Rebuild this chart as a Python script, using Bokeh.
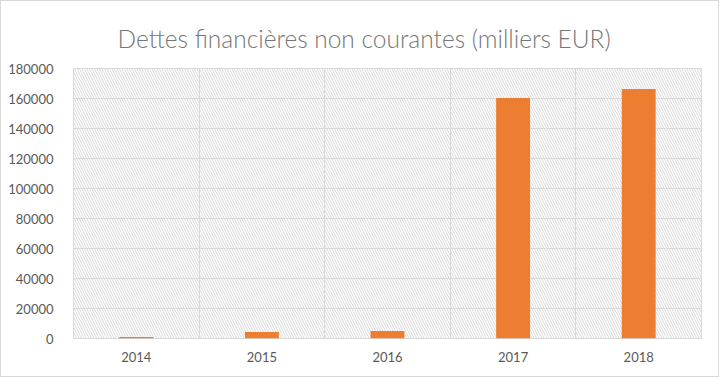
from bokeh.plotting import figure
from bokeh.models import Range1d, FixedTicker, ColumnDataSource
from bokeh.embed import file_html
from bokeh.resources import INLINE

title_text = "Dettes financières non courantes (milliers EUR)"
years = ["2014", "2015", "2016", "2017", "2018"]
values = [1000, 4300, 5000, 160300, 166300]
y_ticks = [0, 20000, 40000, 60000, 80000, 100000, 120000, 140000, 160000, 180000]
y_max = 180000

W, H = 719, 377
p = figure(width=W, height=H, output_backend="svg", toolbar_location=None,
           x_range=Range1d(0, len(years)), y_range=Range1d(0, y_max),
           min_border_left=72, min_border_right=19, min_border_top=67, min_border_bottom=40,
           title=title_text)
p.styles = {"border": "1px solid #d9d9d9", "box-sizing": "border-box"}

p.title.align = "left"
p.title.offset = 44
p.title.standoff = 27
p.title.vertical_align = "top"
p.title.text_font = "'Lato Light', Lato"
p.title.text_font_size = "24.5px"
p.title.text_font_style = "normal"
p.title.text_color = "#767676"

# hatched plot background
p.quad(left=[0], right=[len(years)], bottom=[0], top=[y_max], fill_alpha=0,
       line_alpha=0, hatch_pattern="\\", hatch_color="#d9d9d9", hatch_scale=5,
       hatch_weight=1)

xs = [i + 0.5 for i in range(len(years))]
src = ColumnDataSource(dict(x=xs, top=values))
p.vbar(x="x", top="top", width=0.27, bottom=0, source=src, fill_color="#ED7D31",
       line_color=None)

p.xaxis.ticker = FixedTicker(ticks=xs)
p.xaxis.major_label_overrides = {x: y for x, y in zip(xs, years)}
p.yaxis.ticker = FixedTicker(ticks=y_ticks)
p.yaxis.formatter.use_scientific = False
for ax in (p.xaxis[0], p.yaxis[0]):
    ax.axis_line_color = None
    ax.major_tick_line_color = None
    ax.minor_tick_line_color = None
    ax.major_label_text_font = "Lato"
    ax.major_label_text_font_size = "13px"
    ax.major_label_text_color = "#595959"
p.yaxis.major_label_standoff = 14
p.xaxis.major_label_standoff = 7

p.xgrid.ticker = FixedTicker(ticks=list(range(len(years) + 1)))
p.ygrid.ticker = FixedTicker(ticks=y_ticks)
p.grid.grid_line_color = "#d9d9d9"
p.outline_line_color = "#d9d9d9"

open("out.html", "w").write(file_html(p, INLINE))
